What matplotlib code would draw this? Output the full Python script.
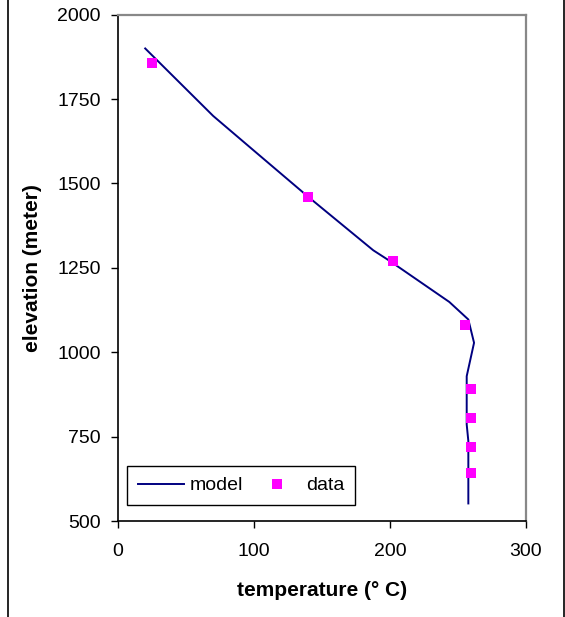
import matplotlib
matplotlib.use("Agg")
import matplotlib.pyplot as plt
from matplotlib.lines import Line2D

# Model curve
model_temp = [20, 45, 70, 100, 140, 187.7, 200, 243.6, 257.6, 261.8, 256.4, 256.4, 257.6, 257.6]
model_elev = [1900, 1800, 1700, 1597, 1460, 1302, 1270, 1149, 1097, 1028, 929, 786, 737, 552]

# Measured data
data_temp = [25, 139.5, 202, 255.5, 259.6, 259.6, 259.6, 259.6]
data_elev = [1856, 1461, 1271, 1080, 890, 805, 720, 642]

x_ticks = [0, 100, 200, 300]
y_ticks = [500, 750, 1000, 1250, 1500, 1750, 2000]

plt.rcParams['font.family'] = ['Liberation Sans', 'DejaVu Sans']

fig = plt.figure(figsize=(5.65, 6.17), dpi=100)
ax = fig.add_axes([118/565, 1 - 521/617, (526-118)/565, (521-14.7)/617])

ax.plot(model_temp, model_elev, color='#000080', lw=1.4, label='model', zorder=2)
ax.plot(data_temp, data_elev, linestyle='none', marker='s', markersize=7.8,
        color='#FF00FF', markeredgewidth=0, label='data', zorder=3)

ax.set_xlim(0, 300)
ax.set_ylim(500, 2000)
ax.set_xticks(x_ticks)
ax.set_yticks(y_ticks)
ax.tick_params(axis='both', direction='out', length=5, width=1, color='black',
               labelsize=14)
ax.tick_params(axis='y', pad=7.5)
ax.tick_params(axis='x', pad=11)

for s in ['left', 'bottom']:
    ax.spines[s].set_color('black')
    ax.spines[s].set_linewidth(1.2)
for s in ['top', 'right']:
    ax.spines[s].set_color('#888888')
    ax.spines[s].set_linewidth(1.6)

ax.set_xlabel('temperature (° C)', fontsize=15, fontweight='bold')
ax.set_ylabel('elevation (meter)', fontsize=15, fontweight='bold')
ax.xaxis.set_label_coords(0.5, -(591 - 521) / 506.3)
ax.yaxis.set_label_coords(-(118 - 33) / 408, 0.5)
ax.xaxis.label.set_va('center')
ax.yaxis.label.set_va('center')

leg = ax.legend(loc='lower left', bbox_to_anchor=((127-118)/408, (521-505)/506.3),
                ncol=2, fontsize=14,
                frameon=True, fancybox=False, framealpha=1, edgecolor='black',
                handlelength=2.4, handletextpad=0.28, columnspacing=0.55,
                borderaxespad=0, borderpad=0.55, markerscale=1.0)
leg.get_frame().set_linewidth(1.0)

# outer frame lines of the picture
fig.add_artist(Line2D([7.5/565, 7.5/565], [0, 1], color='black', lw=1.2,
                      transform=fig.transFigure))
fig.add_artist(Line2D([563.5/565, 563.5/565], [0, 1], color='black', lw=1.2,
                      transform=fig.transFigure))

fig.savefig('out.png', dpi=100)
